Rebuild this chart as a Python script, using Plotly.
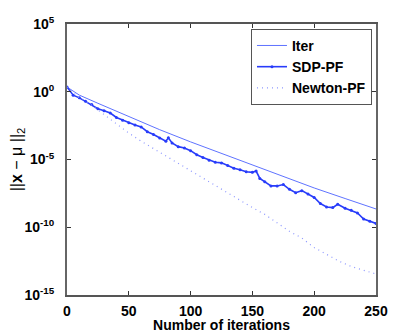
import plotly.graph_objects as go

# Iter (log10 of error) vs iteration
iter_x = [0, 5, 10, 25, 50, 75, 100, 125, 150, 175, 200, 225, 250]
iter_log = [0.35, 0.02, -0.25, -0.85, -1.85, -2.8, -3.7, -4.55, -5.4, -6.25, -7.1, -7.88, -8.65]

# SDP-PF
sdp_x = [0, 5, 10, 15, 20, 25, 30, 35, 40, 45, 50, 55, 60, 65, 70, 75, 80, 82, 85, 90, 95,
         100, 105, 110, 115, 120, 125, 130, 135, 140, 145, 150, 153, 156, 160, 165, 170,
         175, 180, 185, 190, 195, 200, 205, 210, 215, 219, 225, 230, 235, 240, 245, 250]
sdp_log = [0.35, -0.25, -0.45, -0.70, -0.95, -1.25, -1.40, -1.57, -1.90, -2.10, -2.28, -2.45,
           -2.60, -2.95, -3.15, -3.42, -3.65, -3.40, -3.78, -4.05, -4.15, -4.35, -4.65, -4.85,
           -5.05, -5.20, -5.25, -5.45, -5.65, -5.75, -5.90, -5.95, -5.85, -6.40, -6.65, -6.95,
           -6.95, -6.85, -7.20, -7.45, -7.30, -7.55, -7.80, -8.25, -8.50, -8.55, -8.30, -8.60,
           -8.75, -8.95, -9.40, -9.55, -9.72]

# Newton-PF
newton_x = [0, 10, 20, 30, 40, 50, 60, 70, 80, 90, 100, 110, 120, 130, 140, 150, 160, 170,
            180, 190, 200, 210, 220, 230, 240, 250]
newton_log = [0.35, -0.45, -1.0, -1.7, -2.4, -3.05, -3.65, -4.2, -4.75, -5.3, -5.85, -6.35,
              -6.9, -7.45, -8.05, -8.55, -9.05, -9.7, -10.3, -10.8, -11.5, -12.0, -12.5,
              -12.9, -13.2, -13.45]

ytick_exp = [-15, -10, -5, 0, 5]
xtick_vals = [0, 50, 100, 150, 200, 250]

FONT = "Liberation Sans, Arial, sans-serif"

fig = go.Figure()
fig.add_trace(go.Scatter(x=iter_x, y=[10 ** v for v in iter_log], mode="lines", name="Iter",
                         line=dict(color="rgb(95,115,255)", width=1)))
fig.add_trace(go.Scatter(x=sdp_x, y=[10 ** v for v in sdp_log], mode="lines+markers", name="SDP-PF",
                         line=dict(color="rgb(40,60,250)", width=1.6),
                         marker=dict(size=3, color="rgb(40,60,250)")))
fig.add_trace(go.Scatter(x=newton_x, y=[10 ** v for v in newton_log], mode="lines", name="Newton-PF",
                         line=dict(color="rgb(140,150,255)", width=1.2, dash="1px,4px")))

# page body has an 8px default margin: figure is 8px smaller and margins compensate
fig.update_layout(
    width=407, height=325,
    margin=dict(l=59, r=39, t=16, b=38, autoexpand=False),
    plot_bgcolor="white", paper_bgcolor="white",
    font=dict(family=FONT, size=14, color="black"),
    legend=dict(x=0.987, y=0.982, xanchor="right", yanchor="top",
                bordercolor="#555", borderwidth=1, bgcolor="white",
                font=dict(family=FONT, size=14, color="black", weight="bold"),
                itemwidth=30, tracegroupgap=0),
    showlegend=True,
)
fig.update_xaxes(range=[0, 250], tickvals=xtick_vals,
                 ticktext=[str(v) for v in xtick_vals],
                 ticks="inside", ticklen=4, tickcolor="#333",
                 showline=True, linecolor="#555", linewidth=1.5, mirror="ticks",
                 showgrid=False, zeroline=False, automargin=False,
                 ticklabelstandoff=2,
                 tickfont=dict(size=14, family=FONT, weight="bold"),
                 title=dict(text="Number of iterations", standoff=0,
                            font=dict(size=14, family=FONT, weight="bold")))
fig.update_yaxes(type="log", range=[-15, 5], tickvals=[10 ** e for e in ytick_exp],
                 ticktext=[f"10<sup>{e}</sup>" for e in ytick_exp],
                 ticks="inside", ticklen=4, tickcolor="#333",
                 showline=True, linecolor="#666", linewidth=2, mirror="ticks",
                 showgrid=False, zeroline=False, automargin=False,
                 ticklabelstandoff=8,
                 tickfont=dict(size=14, family=FONT, weight="bold"),
                 title=dict(text="||<b>x</b> − μ ||<sub>2</sub>", standoff=8,
                            font=dict(size=16, family=FONT)))

fig.write_html("out.html")
